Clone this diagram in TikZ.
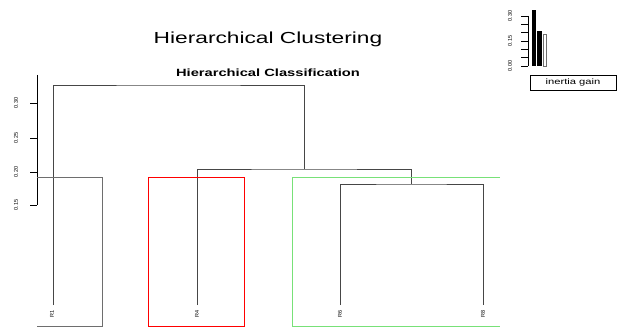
\documentclass[tikz,border=0pt]{standalone}
\usepackage{fontspec}
\setmainfont{Liberation Sans}
\usepackage{tikz}

\definecolor{treegray}{RGB}{70,70,70}
\definecolor{boxgray}{RGB}{110,110,110}
\definecolor{boxgreen}{RGB}{120,225,120}

\tikzset{
  branch/.style={draw=treegray, line width=0.9pt},
  axisline/.style={draw=black, line width=0.9pt},
  ticklabel/.style={font=\fontsize{5.5}{6}\selectfont, rotate=90, inner sep=0pt},
  leaflabel/.style={font=\fontsize{5.5}{6}\selectfont, rotate=90, inner sep=0pt},
}

\begin{document}
\begin{tikzpicture}[x=1pt, y=-1pt]
\useasboundingbox (0,0) rectangle (619,329);

% Titles
  \node (title) at (268,39) {\fontsize{16}{18}\selectfont\scalebox{1.42}[1]{Hierarchical Clustering}};
  \node (subtitle) at (268,73) {\fontsize{10.5}{12}\selectfont\bfseries\scalebox{1.4}[1]{Hierarchical Classification}};

% Axis
  \draw[axisline] (37,75) -- (37,205);
  \foreach \yy/\lab in {103/0.30, 138/0.25, 172/0.20, 205/0.15} {
    \draw[axisline] (30,\yy) -- (37,\yy);
    \node[ticklabel] at (16,\yy) {\lab};
  }

% Leaves
  \coordinate (l1) at (53,305);
  \coordinate (l4) at (197,305);
  \coordinate (l6) at (340,305);
  \coordinate (l8) at (483,305);
  \node[leaflabel] (r1) at (52,314) {R1};
  \node[leaflabel] (r4) at (197,314) {R4};
  \node[leaflabel] (r6) at (340,314) {R6};
  \node[leaflabel] (r8) at (483,314) {R8};

% Merges
  \coordinate (n68)  at (411,184);
  \coordinate (n468) at (304,169);
  \coordinate (nall) at (178,85);

% Edges
  \draw[branch] (l6) |- (n68) -| (l8);
  \draw[branch] (l4) |- (n468) -| (n68);
  \draw[branch] (l1) |- (nall) -| (n468);

% Clusters
  \draw[boxgray, line width=0.9pt] (37,177) -- (102,177) -- (102,326) -- (37,326);
  \draw[red, line width=0.9pt] (148,177) rectangle (244,326);
  \draw[boxgreen, line width=0.9pt] (500,177) -- (292,177) -- (292,326) -- (500,326);

% Inertia gain inset
  \draw[axisline] (528,16) -- (528,66);
  \foreach \yy in {16,24,32,41,49,57,66}
    \draw[axisline] (521,\yy) -- (528,\yy);
  \foreach \yy/\lab in {16/0.30, 41/0.15, 66/0.00}
    \node[ticklabel] at (510,\yy) {\lab};
  \fill[black] (532,10) rectangle (536,66);
  \fill[black] (537,31) rectangle (542,66);
  \draw[boxgray, fill=white, line width=0.9pt] (543.5,34) rectangle (546.5,66);
  \node[draw, line width=0.6pt, minimum width=86pt, minimum height=15pt, inner sep=0pt] (legend) at (573,82.5)
    {\fontsize{8}{9}\selectfont\scalebox{1.4}[1]{inertia gain}};
\end{tikzpicture}
\end{document}
